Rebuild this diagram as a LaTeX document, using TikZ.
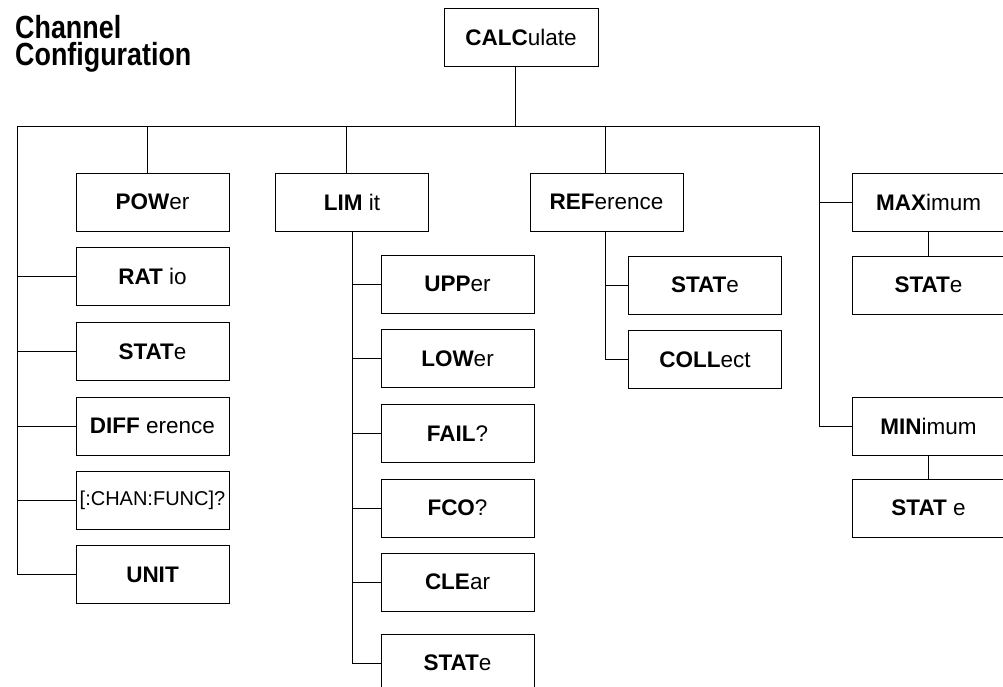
\documentclass[tikz,border=0pt]{standalone}
\usepackage{fontspec}
\setmainfont{Liberation Sans}
\newfontfamily\titlefont[FakeStretch=0.84]{Liberation Sans}
\newcommand{\kw}[2]{\textbf{#1}#2}

\begin{document}
\begin{tikzpicture}[x=1pt,y=-1pt,
  box/.style={draw,line width=1pt,minimum width=153pt,minimum height=58pt,inner sep=0pt,
    font=\fontsize{22.5}{26}\selectfont},
  wire/.style={line width=1pt}]
\path[use as bounding box,clip] (0,0) rectangle (1003,686);
\node[anchor=north west,inner sep=0pt,align=left,
  font=\titlefont\bfseries\fontsize{32}{27}\selectfont] (title) at (15,15) {Channel\\Configuration};
\node[box,minimum width=154pt] (calc) at (521,37.5) {\kw{CALC}{ulate}};
% first level
\node[box] (pow) at (152.5,202) {\kw{POW}{er}};
\node[box] (rat) at (152.5,276.5) {\kw{RAT}{ io}};
\node[box] (stat) at (152.5,351.5) {\kw{STAT}{e}};
\node[box] (diff) at (152.5,426) {\kw{DIFF}{ erence}};
\node[box,font=\fontsize{20}{24}\selectfont] (chan) at (152.5,500.5) {[:CHAN:FUNC]?};
\node[box] (unit) at (152.5,574.5) {\kw{UNIT}{}};
\node[box] (lim) at (352,202) {\kw{LIM}{ it}};
\node[box] (ref) at (606.5,202) {\kw{REF}{erence}};
\node[box] (max) at (928.5,202.5) {\kw{MAX}{imum}};
\node[box] (min) at (928.5,426) {\kw{MIN}{imum}};
% LIMit
\node[box] (upp) at (457.5,284) {\kw{UPP}{er}};
\node[box] (low) at (457.5,358.5) {\kw{LOW}{er}};
\node[box] (fail) at (457.5,433.5) {\kw{FAIL}{?}};
\node[box] (fco) at (457.5,508) {\kw{FCO}{?}};
\node[box] (cle) at (457.5,582) {\kw{CLE}{ar}};
\node[box] (lstat) at (457.5,663) {\kw{STAT}{e}};
% REFerence, MAXimum, MINimum
\node[box] (rstat) at (705,285) {\kw{STAT}{e}};
\node[box] (coll) at (705,359.5) {\kw{COLL}{ect}};
\node[box] (xstat) at (928.5,285) {\kw{STAT}{e}};
\node[box] (nstat) at (928.5,508) {\kw{STAT}{ e}};

\coordinate (busL) at (17,126);
\coordinate (busR) at (819,126);
\draw[wire] (busL) -- (busR);
\draw[wire] ([xshift=-6pt]calc.south) -- ([xshift=-6pt]calc.south |- busL);
\draw[wire] ([xshift=-5.5pt]pow.north |- busL) -- ([xshift=-5.5pt]pow.north);
\draw[wire] ([xshift=-6pt]lim.north |- busL) -- ([xshift=-6pt]lim.north);
\draw[wire] ([xshift=-1.5pt]ref.north |- busL) -- ([xshift=-1.5pt]ref.north);
\draw[wire] (busL) |- (unit.west);
\foreach \n in {rat,stat,diff,chan}
  \draw[wire] (\n.west -| busL) -- (\n.west);
\draw[wire] (lim.south) |- (lstat.west);
\foreach \n in {upp,low,fail,fco,cle}
  \draw[wire] (\n.west -| lim.south) -- (\n.west);
\draw[wire] ([xshift=-1.5pt]ref.south) |- (coll.west);
\draw[wire] ([xshift=-1.5pt]ref.south |- rstat.west) -- (rstat.west);
\draw[wire] (busR) |- (min.west);
\draw[wire] (max.west -| busR) -- (max.west);
\draw[wire] (max) -- (xstat);
\draw[wire] (min) -- (nstat);
\end{tikzpicture}
\end{document}
